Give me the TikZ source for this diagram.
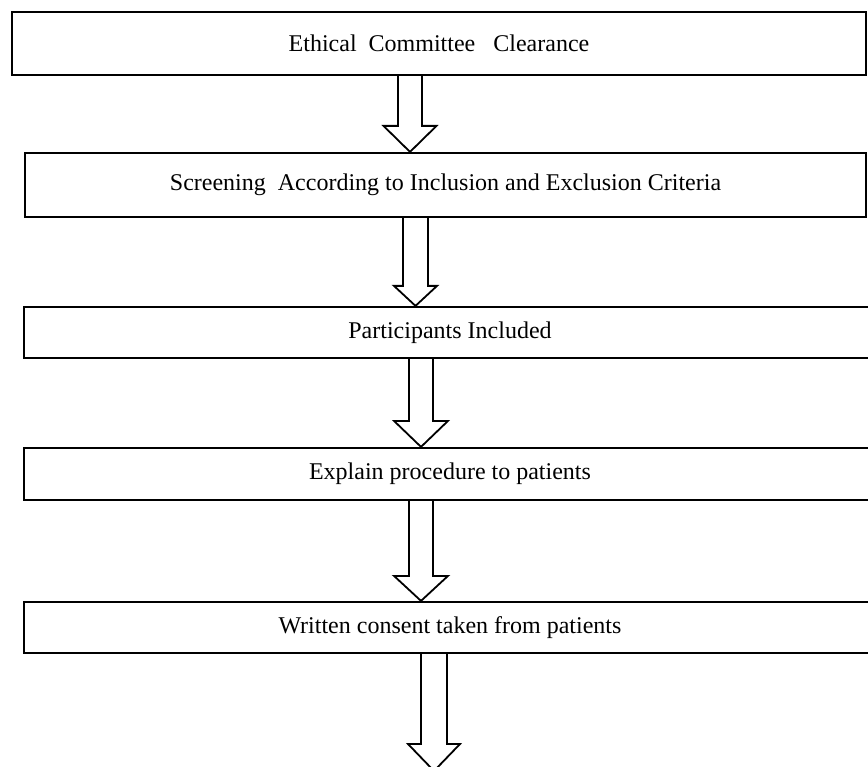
\documentclass[tikz,border=0pt]{standalone}
\usepackage{fontspec}
\setmainfont{Liberation Serif}
\usetikzlibrary{calc}
\newcommand\fatarr[5]{%
  \draw[fatline] ($(#1)+(-#3,0)$) -- ($(#2)+(-#3,-#5)$) -- ($(#2)+(-#4,-#5)$)
    -- (#2) -- ($(#2)+(#4,-#5)$) -- ($(#2)+(#3,-#5)$) -- ($(#1)+(#3,0)$);}
\begin{document}
\begin{tikzpicture}[x=1pt,y=-1pt,
  box/.style={draw, line width=2.2pt, inner sep=0pt, font=\fontsize{24}{28}\selectfont},
  fatline/.style={draw, line width=1.8pt, line join=miter}]
\useasboundingbox (0,0) rectangle (868,767);
\clip (0,0) rectangle (868,767);
\node[box, minimum width=854pt, minimum height=63pt] (b1) at (439,43.5) {Ethical\ \ Committee\ \ \ Clearance};
\node[box, minimum width=841pt, minimum height=64pt] (b2) at (445.5,185) {Screening\ \ According to Inclusion and Exclusion Criteria};
\node[box, minimum width=852pt, minimum height=51pt] (b3) at (450,332.5) {Participants Included};
\node[box, minimum width=852pt, minimum height=52pt] (b4) at (450,474) {Explain procedure to patients};
\node[box, minimum width=852pt, minimum height=51pt] (b5) at (450,627.5) {Written consent taken from patients};
\coordinate (x1) at (410,0);
\coordinate (x2) at (415.5,0);
\coordinate (x3) at (421,0);
\coordinate (x5) at (434,0);
\coordinate (e5) at (434,771);
\fatarr{x1 |- b1.south}{x1 |- b2.north}{12}{26.5}{26}
\fatarr{x2 |- b2.south}{x2 |- b3.north}{12.5}{21.5}{20}
\fatarr{x3 |- b3.south}{x3 |- b4.north}{12}{27}{26}
\fatarr{x3 |- b4.south}{x3 |- b5.north}{12}{27}{25}
\fatarr{x5 |- b5.south}{e5}{13}{26}{27}
\end{tikzpicture}
\end{document}
